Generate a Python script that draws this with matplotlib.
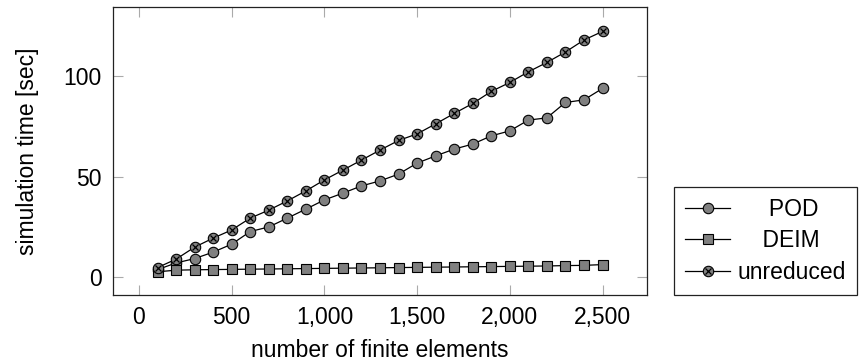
import numpy as np
import matplotlib

matplotlib.use("Agg")
import matplotlib.pyplot as plt
from matplotlib.ticker import FuncFormatter
from matplotlib.lines import Line2D

plt.rcParams["font.family"] = ["Liberation Sans", "DejaVu Sans"]

n_elements = [100, 200, 300, 400, 500, 600, 700, 800, 900, 1000, 1100, 1200, 1300,
              1400, 1500, 1600, 1700, 1800, 1900, 2000, 2100, 2200, 2300, 2400, 2500]
pod_time = [3.5, 6.8, 9.0, 12.2, 16.2, 22.5, 24.8, 29.2, 33.7, 38.3, 41.7, 45.3, 47.8,
            51.2, 56.7, 60.3, 63.7, 66.2, 70.3, 72.8, 78.2, 79.3, 87.0, 88.3, 94.0]
deim_time = [2.4, 3.2, 3.4, 3.5, 3.6, 3.7, 3.8, 3.9, 4.0, 4.1, 4.2, 4.3, 4.4,
             4.5, 4.6, 4.7, 4.8, 4.9, 5.0, 5.1, 5.2, 5.3, 5.5, 5.6, 6.0]
unreduced_time = [4.5, 8.7, 14.7, 19.2, 23.3, 29.2, 33.2, 37.8, 42.8, 48.3, 53.2, 58.2, 63.2,
                  68.0, 71.3, 76.3, 81.5, 86.5, 92.5, 97.0, 102.3, 107.0, 112.2, 118.2, 122.5]

FILL = "#808080"
FS = 16.5

fig = plt.figure(figsize=(8.59, 3.64), dpi=100)
ax = fig.add_axes([113 / 859, 1 - 295 / 364, 534 / 859, 288 / 364])

ax.plot(n_elements, pod_time, color="black", lw=0.9, marker="o", ms=7.5,
        mfc=FILL, mec="black", mew=0.8, zorder=3)
ax.plot(n_elements, deim_time, color="black", lw=0.9, marker="s", ms=7.5,
        mfc=FILL, mec="black", mew=0.8, zorder=3)
ax.plot(n_elements, unreduced_time, color="black", lw=0.9, marker="o", ms=7.5,
        mfc=FILL, mec="black", mew=0.8, zorder=4)
ax.plot(n_elements, unreduced_time, ls="none", marker="x", ms=5, mec="black",
        mew=0.9, zorder=5)

ax.set_xlim(-140, 2740)
ax.set_ylim(-9.2, 134.7)
ax.set_xticks([0, 500, 1000, 1500, 2000, 2500])
ax.set_yticks([0, 50, 100])
ax.xaxis.set_major_formatter(FuncFormatter(lambda v, p: f"{int(v):,}"))
ax.tick_params(direction="in", length=7, width=0.8, color="#aaaaaa",
               top=True, right=True, labelsize=FS, pad=8)
for s in ax.spines.values():
    s.set_linewidth(0.9)
    s.set_color("#222222")

ax.set_xlabel("number of finite elements", fontsize=FS, labelpad=7)
ax.set_ylabel("simulation time [sec]", fontsize=FS, labelpad=18)

h_pod = Line2D([], [], color="black", lw=0.9, marker="o", ms=7.5, mfc=FILL, mec="black", mew=0.8)
h_deim = Line2D([], [], color="black", lw=0.9, marker="s", ms=7.5, mfc=FILL, mec="black", mew=0.8)
h_unr_c = Line2D([], [], color="black", lw=0.9, marker="o", ms=7.5, mfc=FILL, mec="black", mew=0.8)
h_unr_x = Line2D([], [], ls="none", marker="x", ms=5, mec="black", mew=0.9)

leg = fig.legend([h_pod, h_deim, (h_unr_c, h_unr_x)],
                 ["     POD", "    DEIM", "unreduced"],
                 loc="lower left", bbox_to_anchor=(674 / 859, 69 / 364),
                 fontsize=FS, frameon=True, fancybox=False, framealpha=1,
                 edgecolor="#222222", borderaxespad=0, handlelength=1.96,
                 handletextpad=0.3, labelspacing=0.36, borderpad=0.5)
leg.get_frame().set_linewidth(0.9)

fig.savefig("out.png", dpi=100, facecolor="white")
